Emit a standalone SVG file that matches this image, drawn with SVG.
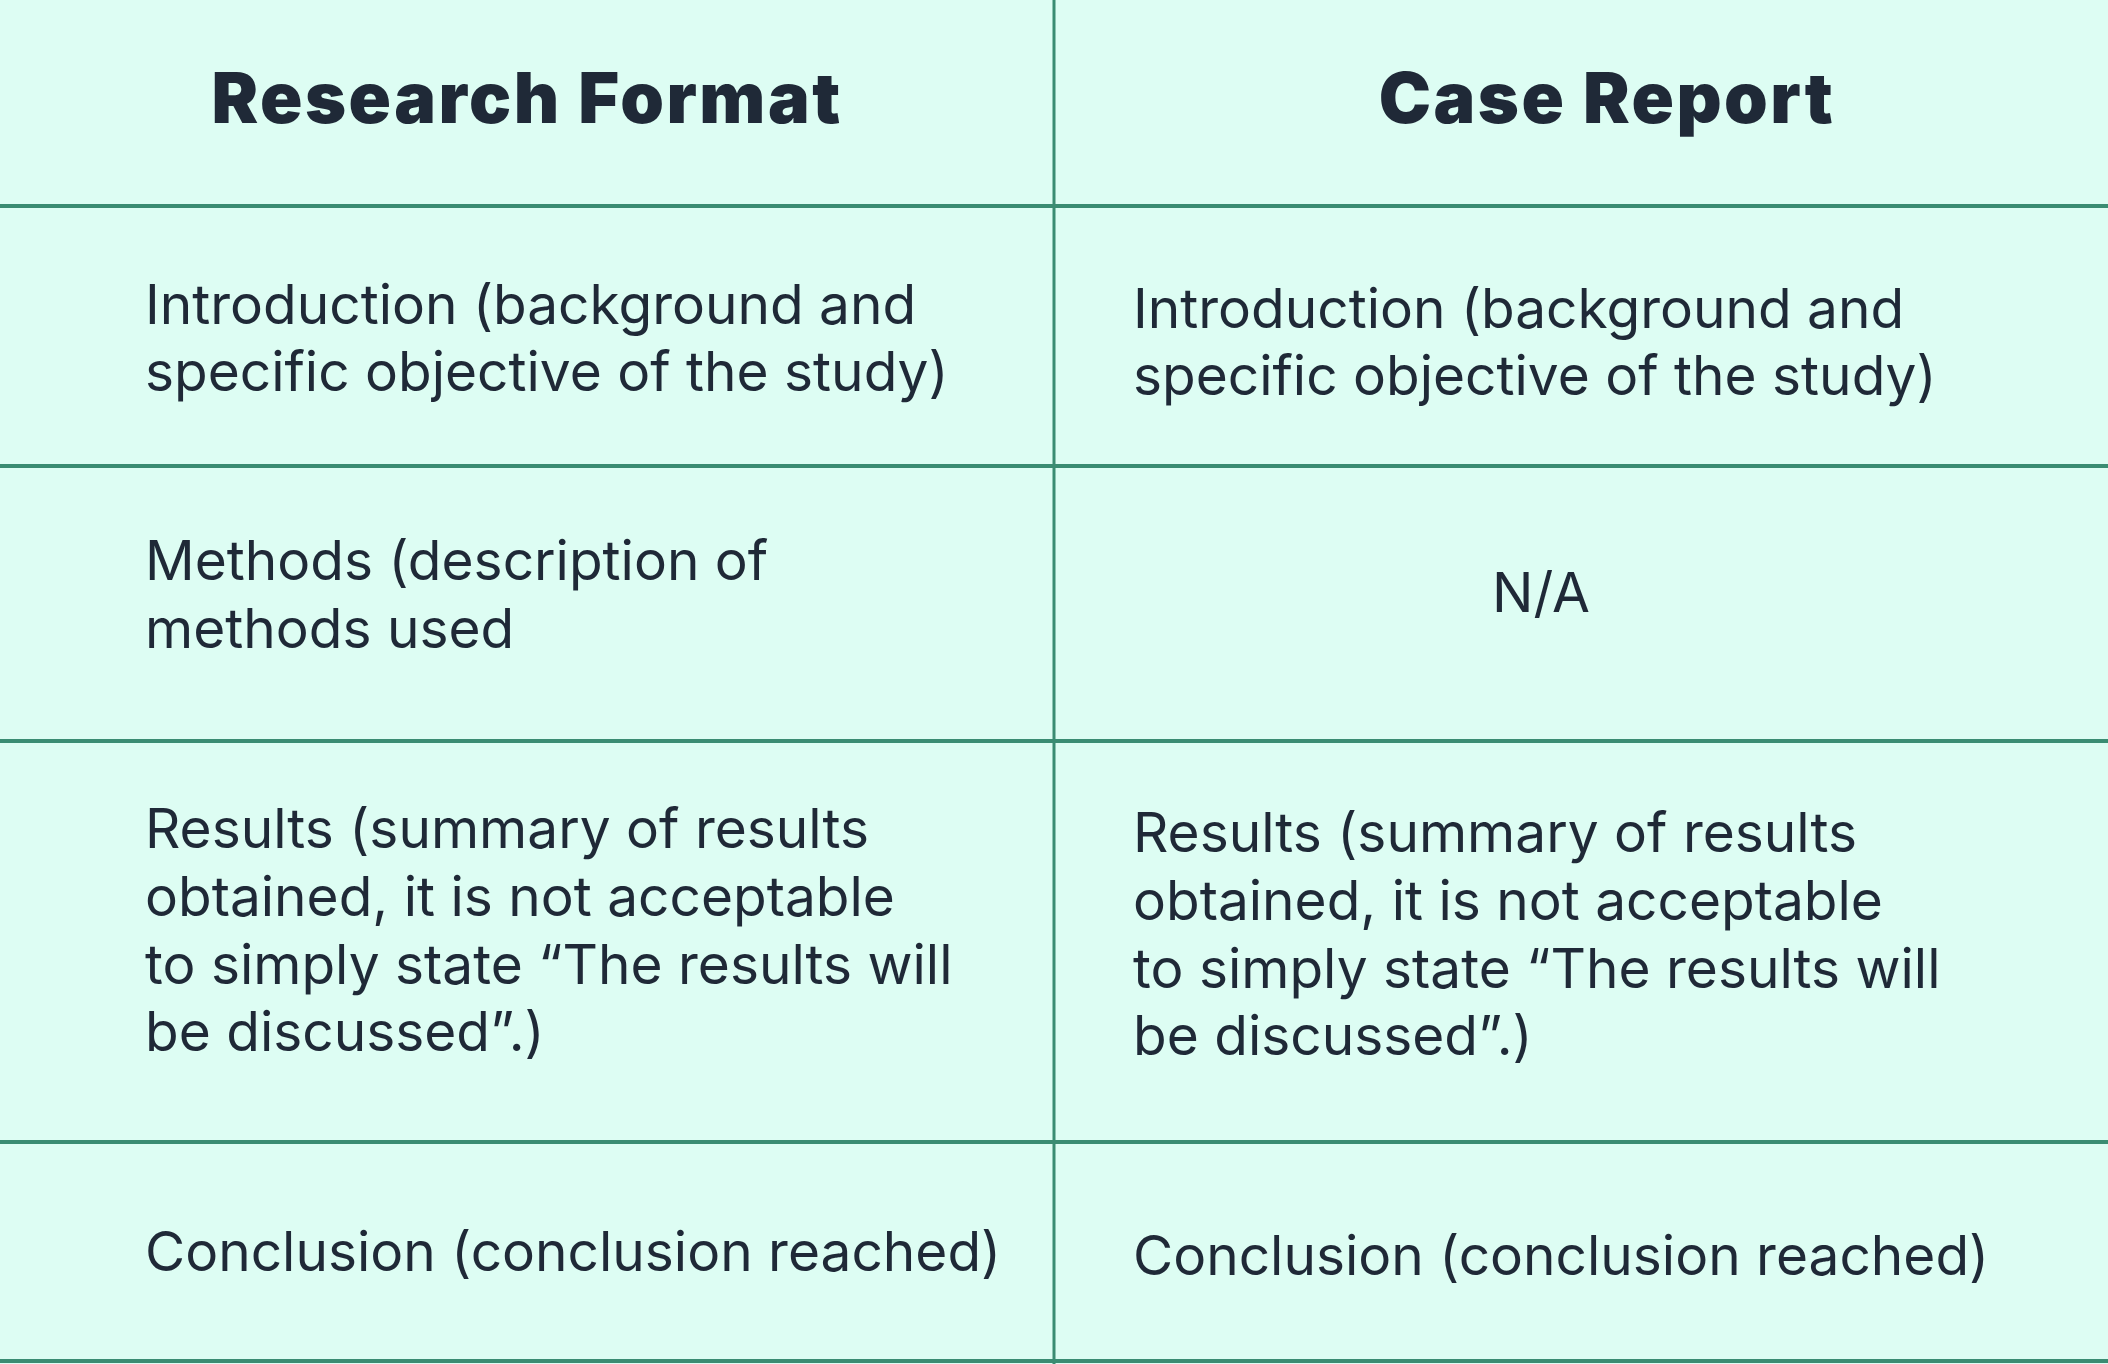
<svg xmlns="http://www.w3.org/2000/svg" width="2108" height="1364" viewBox="0 0 2108 1364">
<style>
.bg{fill:#DDFDF3}
.grid line{stroke:#3A8C72;stroke-width:4}
.h{font-family:Inter,"Liberation Sans",sans-serif;font-weight:900;font-size:70px;letter-spacing:2.5px;fill:#1F2937;text-anchor:middle}
.b{font-family:Inter,"Liberation Sans",sans-serif;font-weight:400;font-size:55px;fill:#1F2937}
</style>
<rect class="bg" x="0" y="0" width="2108" height="1364"/>
<g id="connectors" class="grid">
<line x1="1054" y1="0" x2="1054" y2="1364" style="stroke-width:3"/>
<line x1="0" y1="206" x2="2108" y2="206"/>
<line x1="0" y1="466" x2="2108" y2="466"/>
<line x1="0" y1="741" x2="2108" y2="741"/>
<line x1="0" y1="1142" x2="2108" y2="1142"/>
<line x1="0" y1="1361" x2="2108" y2="1361"/>
</g>
<g id="head-research"><text class="h" x="527" y="123">Research Format</text></g>
<g id="head-case"><text class="h" x="1607" y="123">Case Report</text></g>
<g id="intro-left"><text class="b"><tspan x="145" y="324">Introduction (background and</tspan><tspan x="145" y="391">specific objective of the study)</tspan></text></g>
<g id="intro-right"><text class="b"><tspan x="1133" y="328">Introduction (background and</tspan><tspan x="1133" y="395">specific objective of the study)</tspan></text></g>
<g id="methods-left"><text class="b"><tspan x="145" y="580">Methods (description of</tspan><tspan x="145" y="648">methods used</tspan></text></g>
<g id="methods-right"><text class="b" x="1541" y="612" text-anchor="middle">N/A</text></g>
<g id="results-left"><text class="b"><tspan x="145" y="848">Results (summary of results</tspan><tspan x="145" y="916">obtained, it is not acceptable</tspan><tspan x="145" y="984">to simply state “The results will</tspan><tspan x="145" y="1051">be discussed”.)</tspan></text></g>
<g id="results-right"><text class="b"><tspan x="1133" y="852">Results (summary of results</tspan><tspan x="1133" y="920">obtained, it is not acceptable</tspan><tspan x="1133" y="988">to simply state “The results will</tspan><tspan x="1133" y="1055">be discussed”.)</tspan></text></g>
<g id="conclusion-left"><text class="b" x="145" y="1271">Conclusion (conclusion reached)</text></g>
<g id="conclusion-right"><text class="b" x="1133" y="1275">Conclusion (conclusion reached)</text></g>
</svg>
